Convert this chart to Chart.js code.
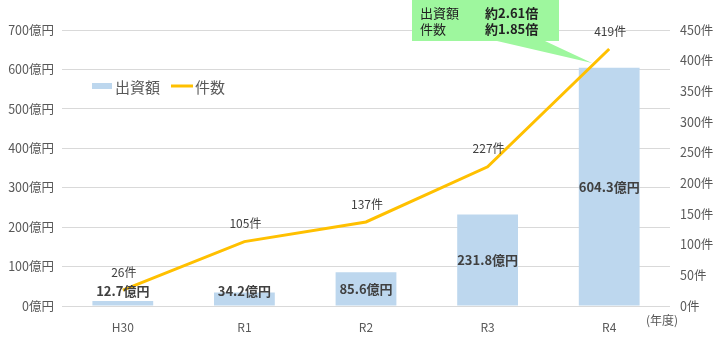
<!DOCTYPE html>
<html>
<head>
<meta charset="utf-8">
<script src="https://cdn.jsdelivr.net/npm/chart.js@4.4.1/dist/chart.umd.min.js"></script>
<style>
  html, body { margin: 0; padding: 0; background: #fff; }
  #wrap { width: 720px; height: 362px; }
</style>
</head>
<body>
<div id="wrap"><canvas id="chart" width="720" height="362"></canvas></div>
<script>
const years = ['H30', 'R1', 'R2', 'R3', 'R4'];
const amounts = [12.7, 34.2, 85.6, 231.8, 604.3];   // 億円
const counts = [26, 105, 137, 227, 419];             // 件
const calloutRows = [['出資額', '約2.61倍'], ['件数', '約1.85倍']];

const FONT = '"Noto Sans CJK JP", "Noto Sans", sans-serif';
const GRAY = '#595959';

// Labels on bars and line points
const labelPlugin = {
  id: 'labels',
  afterDatasetsDraw(chart) {
    const ctx = chart.ctx;
    ctx.save();
    ctx.textAlign = 'center';
    ctx.textBaseline = 'middle';

    const lineMeta = chart.getDatasetMeta(1);
    ctx.font = '12px ' + FONT;
    ctx.fillStyle = '#404040';
    lineMeta.data.forEach((pt, i) => {
      ctx.fillText(counts[i] + '件', pt.x + 1, pt.y - 18);
    });

    const barMeta = chart.getDatasetMeta(0);
    ctx.font = 'bold 13px ' + FONT;
    barMeta.data.forEach((bar, i) => {
      const y = Math.min((bar.y + bar.base) / 2, bar.base - 14);
      ctx.fillText(amounts[i] + '億円', bar.x, y);
    });
    ctx.restore();
  }
};

// Legend inside plot, callout, and year unit
const extrasPlugin = {
  id: 'extras',
  afterDraw(chart) {
    const ctx = chart.ctx;
    ctx.save();

    // legend
    ctx.font = '15px ' + FONT;
    ctx.textBaseline = 'middle';
    ctx.fillStyle = '#bdd7ee';
    ctx.fillRect(92, 83, 20, 6);
    ctx.fillStyle = GRAY;
    ctx.fillText(chart.data.datasets[0].label, 115, 87);
    ctx.strokeStyle = '#ffc000';
    ctx.lineWidth = 3;
    ctx.beginPath();
    ctx.moveTo(171, 86);
    ctx.lineTo(193, 86);
    ctx.stroke();
    ctx.fillText(chart.data.datasets[1].label, 195, 87);

    // year unit
    ctx.font = '12px ' + FONT;
    ctx.textAlign = 'center';
    ctx.fillText('(年度)', 662, 320);

    // callout
    ctx.fillStyle = '#9ef79e';
    ctx.beginPath();
    ctx.moveTo(412, 0);
    ctx.lineTo(559, 0);
    ctx.lineTo(559, 41);
    ctx.lineTo(545, 41);
    ctx.lineTo(592, 63);
    ctx.lineTo(497, 41);
    ctx.lineTo(412, 41);
    ctx.closePath();
    ctx.fill();

    ctx.textAlign = 'left';
    ctx.fillStyle = '#222';
    calloutRows.forEach((row, i) => {
      const y = 13 + i * 16;
      ctx.font = '13px ' + FONT;
      ctx.fillText(row[0], 420, y);
      ctx.font = 'bold 13px ' + FONT;
      ctx.fillText(row[1], 485, y);
    });
    ctx.restore();
  }
};

new Chart(document.getElementById('chart'), {
  data: {
    labels: years,
    datasets: [
      {
        type: 'bar',
        label: '出資額',
        data: amounts,
        backgroundColor: '#bdd7ee',
        categoryPercentage: 1,
        barPercentage: 0.5,
        yAxisID: 'y',
        order: 2
      },
      {
        type: 'line',
        label: '件数',
        data: counts,
        borderColor: '#ffc000',
        borderWidth: 3,
        pointRadius: 0,
        tension: 0,
        yAxisID: 'y1',
        order: 1
      }
    ]
  },
  options: {
    responsive: false,
    animation: false,
    layout: { padding: { top: 30, left: 0, right: 0, bottom: 0 } },
    plugins: { legend: { display: false }, tooltip: { enabled: false } },
    scales: {
      x: {
        grid: { display: false },
        border: { display: false },
        ticks: { color: GRAY, font: { family: FONT, size: 12 }, padding: 6 },
        afterFit(s) { s.height = 56; }
      },
      y: {
        position: 'left',
        min: 0, max: 700,
        ticks: { stepSize: 100, color: GRAY, font: { family: FONT, size: 12.5 }, padding: 8,
          callback: v => v + '億円' },
        grid: { color: '#d9d9d9', drawTicks: false },
        border: { display: false },
        afterFit(s) { s.width = 62; }
      },
      y1: {
        position: 'right',
        min: 0, max: 450,
        ticks: { stepSize: 50, color: GRAY, font: { family: FONT, size: 12.5 }, padding: 10,
          callback: v => v + '件' },
        grid: { display: false, drawTicks: false },
        border: { display: false },
        afterFit(s) { s.width = 50; }
      }
    }
  },
  plugins: [labelPlugin, extrasPlugin]
});
</script>
</body>
</html>
